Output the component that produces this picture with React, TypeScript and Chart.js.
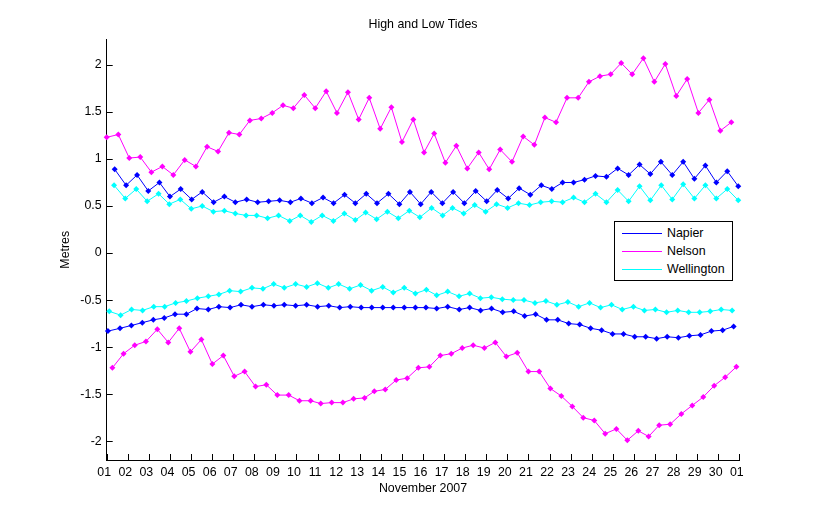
import { useEffect, useRef } from "react"
import { Chart, registerables, type ChartConfiguration, type Plugin } from "chart.js"

Chart.register(...registerables)

const FONT = '"Liberation Sans", Arial, Helvetica, sans-serif'

const places = ['Napier', 'Nelson', 'Wellington']
const colours = ['#0000ff', '#ff00ff', '#00ffff']

// x tick labels, one per day of November 2007 plus 1 December
const xTickValues = [0,1,2,3,4,5,6,7,8,9,10,11,12,13,14,15,16,17,18,19,20,21,22,23,24,25,26,27,28,29,30]
const xTickLabels = ['01','02','03','04','05','06','07','08','09','10','11','12','13','14','15','16','17','18','19','20','21','22','23','24','25','26','27','28','29','30','01']
const yTickValues = [-2, -1.5, -1, -0.5, 0, 0.5, 1, 1.5, 2]

// times are days after 00:00 1 Nov 2007, heights in metres
const napierHighT = [0.38,0.92,1.44,1.97,2.50,3.00,3.51,4.03,4.53,5.07,5.58,6.10,6.64,7.16,7.68,8.20,8.71,9.21,9.73,10.26,10.76,11.28,11.79,12.31,12.82,13.36,13.88,14.38,14.89,15.39,15.92,16.43,16.96,17.50,18.02,18.52,19.04,19.56,20.09,20.61,21.11,21.62,22.14,22.66,23.18,23.70,24.23,24.75,25.27,25.78,26.28,26.82,27.34,27.87,28.39,28.91,29.43,29.95]
const napierHigh = [0.89,0.72,0.83,0.66,0.75,0.60,0.68,0.57,0.65,0.54,0.60,0.54,0.57,0.54,0.55,0.56,0.54,0.58,0.53,0.59,0.53,0.62,0.53,0.63,0.53,0.63,0.52,0.65,0.52,0.65,0.53,0.65,0.53,0.66,0.55,0.67,0.58,0.69,0.62,0.72,0.68,0.75,0.75,0.78,0.82,0.81,0.90,0.83,0.94,0.84,0.97,0.83,0.97,0.79,0.93,0.75,0.87,0.71]
const napierLowT = [0.06,0.63,1.17,1.69,2.21,2.73,3.24,3.78,4.28,4.82,5.32,5.85,6.37,6.89,7.43,7.93,8.42,8.96,9.48,10.00,10.53,11.05,11.55,12.07,12.57,13.09,13.59,14.11,14.64,15.14,15.65,16.17,16.72,17.21,17.73,18.25,18.78,19.30,19.82,20.34,20.86,21.39,21.91,22.43,22.95,23.47,23.99,24.51,25.04,25.56,26.08,26.58,27.11,27.63,28.16,28.68,29.21,29.73]
const napierLow = [-0.83,-0.80,-0.77,-0.74,-0.71,-0.69,-0.65,-0.65,-0.59,-0.60,-0.57,-0.58,-0.55,-0.57,-0.55,-0.56,-0.55,-0.56,-0.55,-0.57,-0.56,-0.58,-0.57,-0.58,-0.58,-0.58,-0.58,-0.58,-0.58,-0.58,-0.59,-0.57,-0.60,-0.58,-0.61,-0.59,-0.63,-0.62,-0.67,-0.65,-0.71,-0.71,-0.75,-0.76,-0.80,-0.82,-0.86,-0.86,-0.89,-0.89,-0.91,-0.89,-0.90,-0.88,-0.87,-0.83,-0.82,-0.78]

const nelsonHighT = [0.00,0.55,1.07,1.59,2.12,2.64,3.16,3.70,4.23,4.76,5.28,5.80,6.29,6.79,7.33,7.85,8.36,8.85,9.37,9.89,10.41,10.92,11.44,11.95,12.45,12.97,13.50,14.00,14.54,15.05,15.53,16.06,16.58,17.10,17.64,18.14,18.66,19.22,19.75,20.28,20.78,21.31,21.83,22.36,22.87,23.39,23.90,24.40,24.92,25.45,25.97,26.49,27.01,27.53,28.06,28.58,29.10,29.62]
const nelsonHigh = [1.23,1.26,1.01,1.02,0.86,0.92,0.83,0.99,0.92,1.13,1.08,1.28,1.26,1.41,1.43,1.49,1.57,1.54,1.68,1.54,1.72,1.49,1.71,1.42,1.65,1.32,1.55,1.18,1.42,1.07,1.27,0.96,1.14,0.90,1.07,0.89,1.10,0.97,1.24,1.15,1.44,1.39,1.65,1.65,1.82,1.88,1.90,2.02,1.90,2.07,1.82,2.01,1.67,1.85,1.49,1.63,1.30,1.39]
const nelsonLowT = [0.27,0.80,1.33,1.86,2.40,2.92,3.44,3.97,4.49,5.01,5.53,6.05,6.54,7.06,7.57,8.09,8.63,9.14,9.67,10.15,10.67,11.20,11.71,12.23,12.69,13.21,13.73,14.25,14.78,15.30,15.82,16.34,16.86,17.38,17.91,18.43,18.95,19.47,20.00,20.51,21.04,21.56,22.08,22.60,23.12,23.64,24.17,24.69,25.21,25.70,26.20,26.72,27.25,27.77,28.29,28.81,29.33,29.86]
const nelsonLow = [-1.22,-1.07,-0.98,-0.94,-0.81,-0.95,-0.80,-1.05,-0.92,-1.18,-1.09,-1.31,-1.26,-1.42,-1.40,-1.51,-1.51,-1.57,-1.57,-1.60,-1.59,-1.59,-1.55,-1.54,-1.47,-1.45,-1.35,-1.33,-1.22,-1.21,-1.09,-1.07,-1.01,-0.98,-1.01,-0.95,-1.10,-1.06,-1.26,-1.26,-1.44,-1.52,-1.63,-1.75,-1.78,-1.92,-1.87,-1.99,-1.89,-1.95,-1.83,-1.82,-1.71,-1.62,-1.53,-1.41,-1.32,-1.21]

const wellingtonHighT = [0.35,0.88,1.40,1.92,2.46,2.97,3.49,4.01,4.53,5.06,5.58,6.10,6.61,7.11,7.63,8.15,8.68,9.18,9.70,10.22,10.75,11.27,11.79,12.28,12.80,13.31,13.83,14.35,14.85,15.41,15.93,16.40,16.93,17.45,17.97,18.49,19.01,19.53,20.05,20.58,21.10,21.62,22.14,22.66,23.18,23.70,24.23,24.75,25.27,25.78,26.30,26.82,27.34,27.87,28.39,28.91,29.43,29.95]
const wellingtonHigh = [0.72,0.58,0.68,0.55,0.63,0.52,0.57,0.47,0.50,0.44,0.45,0.42,0.40,0.40,0.37,0.40,0.34,0.40,0.33,0.40,0.34,0.42,0.35,0.43,0.36,0.44,0.37,0.45,0.38,0.48,0.40,0.48,0.42,0.51,0.44,0.52,0.48,0.53,0.51,0.54,0.55,0.54,0.59,0.54,0.63,0.54,0.67,0.55,0.71,0.56,0.72,0.57,0.73,0.58,0.72,0.58,0.68,0.56]
const wellingtonLowT = [0.12,0.66,1.18,1.70,2.23,2.75,3.27,3.78,4.30,4.82,5.32,5.83,6.35,6.89,7.41,7.92,8.42,8.96,9.48,9.99,10.51,11.00,11.52,12.04,12.56,13.09,13.59,14.11,14.64,15.16,15.65,16.17,16.71,17.21,17.72,18.24,18.76,19.28,19.79,20.31,20.83,21.35,21.87,22.38,22.90,23.42,23.94,24.45,24.98,25.50,26.02,26.55,27.08,27.60,28.12,28.62,29.14,29.66]
const wellingtonLow = [-0.62,-0.66,-0.60,-0.61,-0.57,-0.57,-0.53,-0.51,-0.48,-0.46,-0.44,-0.40,-0.41,-0.37,-0.38,-0.33,-0.37,-0.33,-0.36,-0.32,-0.37,-0.33,-0.38,-0.34,-0.40,-0.36,-0.42,-0.37,-0.43,-0.39,-0.45,-0.41,-0.46,-0.43,-0.48,-0.47,-0.49,-0.50,-0.50,-0.53,-0.51,-0.55,-0.52,-0.57,-0.53,-0.58,-0.55,-0.60,-0.57,-0.61,-0.60,-0.63,-0.61,-0.63,-0.63,-0.62,-0.60,-0.61]

const pts = (t: number[], v: number[]) => t.map((x, i) => ({ x, y: v[i] }))

function series(label: string, colour: string, t: number[], v: number[]) {
  return {
    label,
    data: pts(t, v),
    borderColor: colour,
    backgroundColor: colour,
    borderWidth: 1,
    pointStyle: 'rectRot' as const,
    pointRadius: 3,
    pointBorderWidth: 0,
    tension: 0,
  }
}

// MATLAB style ticks pointing into the axes
const inwardTicks: Plugin = {
  id: 'inwardTicks',
  afterDatasetsDraw(chart) {
    const { ctx, chartArea, scales } = chart
    ctx.save()
    ctx.strokeStyle = '#000'
    ctx.lineWidth = 1
    ctx.beginPath()
    scales.x.ticks.forEach(t => {
      const px = Math.round(scales.x.getPixelForValue(t.value)) + 0.5
      ctx.moveTo(px, chartArea.bottom)
      ctx.lineTo(px, chartArea.bottom - 6)
    })
    scales.y.ticks.forEach(t => {
      const py = Math.round(scales.y.getPixelForValue(t.value)) + 0.5
      ctx.moveTo(chartArea.left, py)
      ctx.lineTo(chartArea.left + 6, py)
    })
    ctx.stroke()
    ctx.restore()
  }
}

function TideChart() {
  const canvasRef = useRef<HTMLCanvasElement>(null)
  const chartRef = useRef<Chart | null>(null)

  useEffect(() => {
    if (!canvasRef.current) return
    chartRef.current?.destroy()

    const cfg: ChartConfiguration<'line'> = {
      type: 'line',
      data: {
        datasets: [
          series('Napier', colours[0], napierHighT, napierHigh),
          series('Nelson', colours[1], nelsonHighT, nelsonHigh),
          series('Wellington', colours[2], wellingtonHighT, wellingtonHigh),
          series('Napier low', colours[0], napierLowT, napierLow),
          series('Nelson low', colours[1], nelsonLowT, nelsonLow),
          series('Wellington low', colours[2], wellingtonLowT, wellingtonLow),
        ]
      },
      options: {
        responsive: true,
        maintainAspectRatio: false,
        animation: false,
        devicePixelRatio: 1,
        layout: { padding: { left: 0, right: 78.7, top: 0, bottom: 0 } },
        plugins: {
          legend: { display: false },
          tooltip: { enabled: false },
        },
        scales: {
          // empty top axis, only carries the title so it centres over the plot
          top: {
            type: 'linear',
            position: 'top',
            afterFit: s => { s.height = 39.5 },
            ticks: { display: false },
            grid: { display: false },
            border: { display: false },
            title: {
              display: true,
              text: 'High and Low Tides',
              color: '#000',
              font: { family: FONT, size: 12.4 },
              padding: { top: 17.3, bottom: 0 }
            }
          },
          x: {
            type: 'linear',
            min: 0,
            max: 30,
            afterBuildTicks: s => { s.ticks = xTickValues.map(value => ({ value })) },
            afterFit: s => { s.height = 57 },
            ticks: {
              color: '#000',
              font: { family: FONT, size: 12.4 },
              padding: 5,
              labelOffset: -2.5,
              maxRotation: 0,
              autoSkip: false,
              callback: (v) => xTickLabels[xTickValues.indexOf(Number(v))]
            },
            grid: { display: true, drawOnChartArea: false, drawTicks: false },
            border: { display: true, color: '#000', width: 1 },
            title: {
              display: true,
              text: 'November 2007',
              color: '#000',
              font: { family: FONT, size: 12.4 },
              padding: { top: 0, bottom: 21.4 }
            }
          },
          y: {
            type: 'linear',
            min: -2.2,
            max: 2.27,
            afterBuildTicks: s => { s.ticks = yTickValues.map(value => ({ value })) },
            afterFit: s => { s.width = 106.7 },
            ticks: {
              color: '#000',
              font: { family: FONT, size: 12.4 },
              padding: 5,
              callback: (v) => String(v)
            },
            grid: { display: true, drawOnChartArea: false, drawTicks: false },
            border: { display: true, color: '#000', width: 1 },
            title: {
              display: true,
              text: 'Metres',
              color: '#000',
              font: { family: FONT, size: 12.4 },
              padding: { top: 58.5, bottom: 0 }
            }
          }
        }
      },
      plugins: [inwardTicks]
    }
    chartRef.current = new Chart(canvasRef.current, cfg)
    return () => { chartRef.current?.destroy() }
  }, [])

  return <canvas ref={canvasRef} />
}

function Legend() {
  const rowTops = [3, 21, 39]
  return (
    <div style={{
      position: 'absolute', left: 614, top: 221, width: 117, height: 58,
      border: '1px solid #000', background: '#fff',
      fontFamily: FONT, fontSize: 12.4, color: '#000'
    }}>
      {places.map((p, i) => (
        <div key={p} style={{ position: 'absolute', left: 0, top: rowTops[i], height: 16, width: '100%' }}>
          <div style={{ position: 'absolute', left: 7, top: 8, width: 40, height: 1, background: colours[i] }} />
          <span style={{ position: 'absolute', left: 52, top: 0, lineHeight: '16px', whiteSpace: 'nowrap' }}>{p}</span>
        </div>
      ))}
    </div>
  )
}

export default function App() {
  return (
    <div style={{ position: 'absolute', left: 0, top: 0, width: 818, height: 517, background: '#fff' }}>
      <TideChart />
      <Legend />
    </div>
  )
}
